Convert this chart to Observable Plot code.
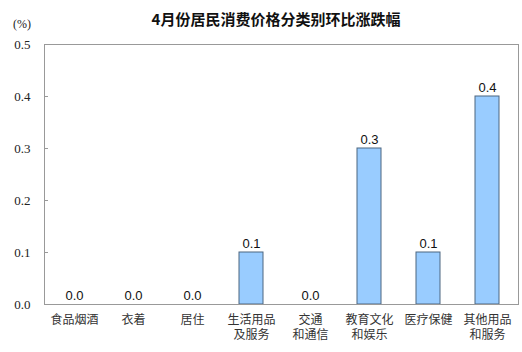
<!DOCTYPE html>
<html><head><meta charset="utf-8">
<script src="https://cdn.jsdelivr.net/npm/d3@7"></script>
<script src="https://cdn.jsdelivr.net/npm/@observablehq/plot@0.6"></script>
<style>
body{margin:0;background:#fff;}
#wrap{position:relative;width:522px;height:352px;}
#title{position:absolute;left:0;top:8px;width:552px;text-align:center;font:bold 15px "Noto Sans CJK SC",sans-serif;color:#111;}
#unit{position:absolute;left:13px;top:17px;font:12px "Liberation Serif",serif;color:#222;}
#chart{position:absolute;left:0;top:36px;}
</style></head><body>
<div id="wrap"><div id="title">4月份居民消费价格分类别环比涨跌幅</div><div id="unit">(%)</div><div id="chart"></div></div>
<script>
const categories = ["食品烟酒","衣着","居住","生活用品\n及服务","交通\n和通信","教育文化\n和娱乐","医疗保健","其他用品\n和服务"];
const values = [0.0, 0.0, 0.0, 0.1, 0.0, 0.3, 0.1, 0.4];
const yTicks = [0.0, 0.1, 0.2, 0.3, 0.4, 0.5];
const data = categories.map((c,i)=>({cat:c, v:values[i]}));
const chart = Plot.plot({
  width: 522, height: 316,
  marginLeft: 44, marginRight: 4, marginTop: 8, marginBottom: 48,
  x: {domain: categories, paddingInner: 0.59, paddingOuter: 0.295, axis: null},
  y: {domain: [0, 0.5], axis: null},
  marks: [
    Plot.barY(data, {x: "cat", y: "v", fill: "#99ccff", stroke: "#4d6680", strokeWidth: 1}),
    Plot.tickY(yTicks, {y: d=>d, insetRight: 470, stroke: "#999"}),
    Plot.axisY(yTicks, {label: null, tickSize: 0, tickPadding: 14, tickFormat: d=>d.toFixed(1), fontSize: 13, fontFamily: "Liberation Serif", fill: "#222"}),
    Plot.axisX(categories, {label: null, tickSize: 0, tickPadding: 8, fontSize: 12, fontFamily: "Noto Sans CJK SC", fill: "#333", lineHeight: 1.3}),
    Plot.text(data, {x: "cat", y: "v", text: d=>d.v.toFixed(1), dy: -9, fontSize: 13, fontFamily: "Liberation Sans", fill: "#111"}),
    Plot.frame({stroke: "#999"})
  ]
});
document.getElementById("chart").appendChild(chart);
</script></body></html>
